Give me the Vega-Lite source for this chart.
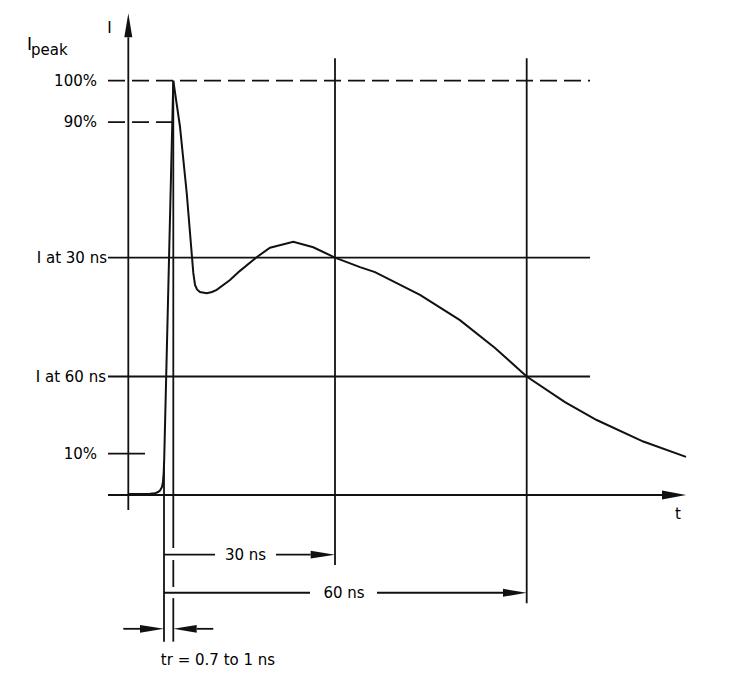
{
  "$schema": "https://vega.github.io/schema/vega-lite/v6.json",
  "width": 731,
  "height": 684,
  "padding": 0,
  "autosize": {"type": "none"},
  "background": "white",
  "config": {"view": {"stroke": null}, "text": {"font": "DejaVu Sans", "color": "#000"}},
  "datasets": {
    "curve": [
      {"t": -7.61, "v": 0.24}, {"t": -5.44, "v": 0.24}, {"t": -3.59, "v": 0.31}, {"t": -2.67, "v": 0.41},
      {"t": -2.11, "v": 0.72}, {"t": -1.74, "v": 1.09}, {"t": -1.37, "v": 1.93}, {"t": -1.19, "v": 3.14},
      {"t": -1.06, "v": 5.31}, {"t": -0.98, "v": 8.45}, {"t": 0, "v": 100},
      {"t": 1.24, "v": 88.9}, {"t": 2.49, "v": 72.9}, {"t": 3.71, "v": 53.6}, {"t": 4.03, "v": 50.7},
      {"t": 4.4, "v": 49.6}, {"t": 4.95, "v": 49.0}, {"t": 6.2, "v": 48.7}, {"t": 7.18, "v": 49.0},
      {"t": 8.05, "v": 49.5}, {"t": 10.52, "v": 51.9}, {"t": 12.37, "v": 54.1}, {"t": 15.47, "v": 57.4},
      {"t": 17.94, "v": 59.7}, {"t": 22.26, "v": 61.1}, {"t": 25.97, "v": 59.8}, {"t": 30, "v": 57.3},
      {"t": 33.91, "v": 55.0}, {"t": 36.26, "v": 53.8}, {"t": 43.3, "v": 48.3}, {"t": 49.55, "v": 42.2},
      {"t": 55.04, "v": 35.5}, {"t": 60, "v": 28.6}, {"t": 65.99, "v": 22.4}, {"t": 70.95, "v": 18.1},
      {"t": 78.25, "v": 12.9}, {"t": 84.93, "v": 9.2}
    ],
    "solid": [
      {"t": -7.61, "t2": -7.61, "v": -3.62, "v2": 110.5},
      {"t": -11.37, "t2": 81.17, "v": 0, "v2": 0},
      {"t": -11.37, "t2": 69.91, "v": 57.3, "v2": 57.3},
      {"t": -11.37, "t2": 69.91, "v": 28.6, "v2": 28.6},
      {"t": -11.37, "t2": -4.52, "v": 10, "v2": 10},
      {"t": -1, "t2": -1, "v": 8, "v2": -35.4},
      {"t": 0, "t2": 0, "v": 100, "v2": -12.8},
      {"t": 0, "t2": 0, "v": -15.7, "v2": -22.2},
      {"t": 0, "t2": 0, "v": -24.9, "v2": -35.4},
      {"t": 30, "t2": 30, "v": 105.4, "v2": -16.9},
      {"t": 60, "t2": 60, "v": 105.4, "v2": -26.1},
      {"t": -1, "t2": 7.74, "v": -14.4, "v2": -14.4},
      {"t": 19.05, "t2": 25.49, "v": -14.4, "v2": -14.4},
      {"t": -1, "t2": 25.36, "v": -23.6, "v2": -23.6},
      {"t": 36.57, "t2": 56.29, "v": -23.6, "v2": -23.6},
      {"t": -8.54, "t2": -5.44, "v": -32.3, "v2": -32.3},
      {"t": 4.34, "t2": 7.42, "v": -32.3, "v2": -32.3}
    ],
    "dashed": [
      {"t": -11.37, "t2": 69.91, "v": 100, "v2": 100},
      {"t": -11.37, "t2": -0.065, "v": 90, "v2": 90}
    ],
    "hArrows": [
      {"id": "a30", "t": 25.49, "v": -15.35, "v2": -13.45},
      {"id": "a30", "t": 30, "v": -14.4, "v2": -14.4},
      {"id": "a60", "t": 56.29, "v": -24.55, "v2": -22.65},
      {"id": "a60", "t": 60, "v": -23.6, "v2": -23.6},
      {"id": "ax", "t": 81.17, "v": -1.1, "v2": 1.1},
      {"id": "ax", "t": 84.96, "v": 0, "v2": 0},
      {"id": "trL", "t": -5.44, "v": -33.25, "v2": -31.35},
      {"id": "trL", "t": -1, "v": -32.3, "v2": -32.3},
      {"id": "trR", "t": 0, "v": -32.3, "v2": -32.3},
      {"id": "trR", "t": 4.34, "v": -33.25, "v2": -31.35}
    ],
    "vArrow": [
      {"v": 110.5, "t": -8.35, "t2": -6.87},
      {"v": 116.3, "t": -7.61, "t2": -7.61}
    ],
    "labelsRight": [
      {"label": "100%", "t": -13.41, "v": 100},
      {"label": "90%", "t": -13.41, "v": 90},
      {"label": "10%", "t": -13.41, "v": 10},
      {"label": "I at 30 ns", "t": -11.56, "v": 57.3},
      {"label": "I at 60 ns", "t": -11.74, "v": 28.6}
    ],
    "labelsCenter": [
      {"label": "30 ns", "t": 13.4, "v": -14.4},
      {"label": "60 ns", "t": 31.41, "v": -23.6},
      {"label": "tr = 0.7 to 1 ns", "t": 8.29, "v": -39.8},
      {"label": "I", "t": -11.1, "v": 112.8},
      {"label": "t", "t": 83.68, "v": -4.6}
    ],
    "ipeakI": [{"label": "I", "t": -26.37, "v": 107.4}],
    "ipeakSub": [{"label": "peak", "t": -25.63, "v": 106.2}]
  },
  "encoding": {
    "x": {"field": "t", "type": "quantitative", "axis": null,
      "scale": {"domain": [-31.37, -1, 0, 30, 60, 91.97], "range": [0, 164, 173.3, 335, 526.7, 731], "nice": false, "zero": false}},
    "y": {"field": "v", "type": "quantitative", "axis": null,
      "scale": {"domain": [-45.62, 119.48], "nice": false, "zero": false}}
  },
  "layer": [
    {"data": {"name": "solid"}, "mark": {"type": "rule", "stroke": "#111", "strokeWidth": 1.8},
      "encoding": {"x2": {"field": "t2"}, "y2": {"field": "v2"}}},
    {"data": {"name": "dashed"}, "mark": {"type": "rule", "stroke": "#111", "strokeWidth": 1.8, "strokeDash": [17, 7]},
      "encoding": {"x2": {"field": "t2"}, "y2": {"field": "v2"}}},
    {"data": {"name": "curve"}, "mark": {"type": "line", "stroke": "#111", "strokeWidth": 2}, "encoding": {}},
    {"data": {"name": "hArrows"}, "mark": {"type": "area", "fill": "#111"},
      "encoding": {"y2": {"field": "v2"}, "detail": {"field": "id"}}},
    {"data": {"name": "vArrow"}, "mark": {"type": "area", "orient": "horizontal", "fill": "#111"},
      "encoding": {"x2": {"field": "t2"}}},
    {"data": {"name": "labelsRight"}, "mark": {"type": "text", "align": "right", "baseline": "middle", "fontSize": 15},
      "encoding": {"text": {"field": "label"}}},
    {"data": {"name": "labelsCenter"}, "mark": {"type": "text", "align": "center", "baseline": "middle", "fontSize": 15},
      "encoding": {"text": {"field": "label"}}},
    {"data": {"name": "ipeakI"}, "mark": {"type": "text", "align": "left", "baseline": "alphabetic", "fontSize": 17},
      "encoding": {"text": {"field": "label"}}},
    {"data": {"name": "ipeakSub"}, "mark": {"type": "text", "align": "left", "baseline": "alphabetic", "fontSize": 15},
      "encoding": {"text": {"field": "label"}}}
  ]
}
